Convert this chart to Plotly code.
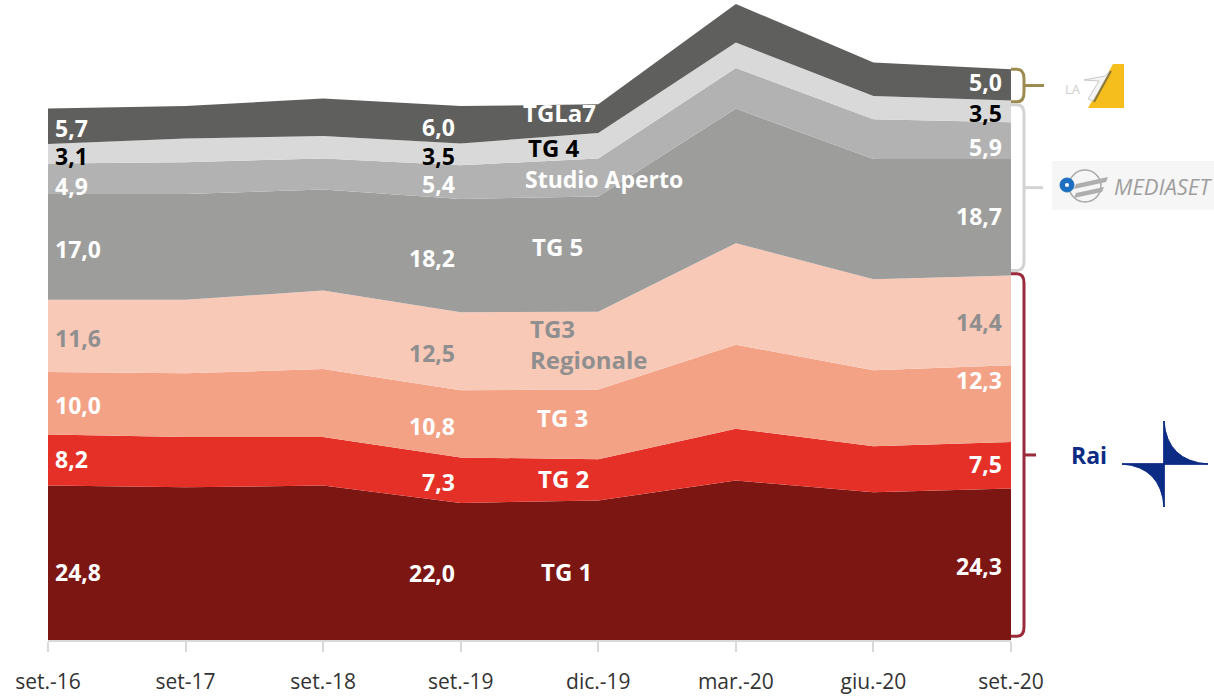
import plotly.graph_objects as go

# ---------------- data ----------------
categories = ["set.-16", "set-17", "set.-18", "set.-19", "dic.-19", "mar.-20", "giu.-20", "set.-20"]
tg1 = [24.8, 24.5, 24.8, 22.0, 22.4, 25.6, 23.7, 24.3]
tg2 = [8.2, 8.1, 7.8, 7.3, 6.6, 8.3, 7.4, 7.5]
tg3 = [10.0, 10.2, 10.9, 10.8, 11.2, 13.5, 12.2, 12.3]
tg3_reg = [11.6, 11.8, 12.6, 12.5, 12.5, 16.3, 14.6, 14.4]
tg5 = [17.0, 17.0, 16.2, 18.2, 18.5, 21.6, 19.3, 18.7]
studio_aperto = [4.9, 5.1, 5.0, 5.4, 6.1, 6.5, 6.4, 5.9]
tg4 = [3.1, 3.8, 3.6, 3.5, 4.1, 4.1, 3.7, 3.5]
tgla7 = [5.7, 5.2, 6.0, 6.0, 4.6, 6.2, 5.4, 5.0]

series_names = ["TG 1", "TG 2", "TG 3", "TG3<br>Regionale", "TG 5", "Studio Aperto", "TG 4", "TGLa7"]
series_values = [tg1, tg2, tg3, tg3_reg, tg5, studio_aperto, tg4, tgla7]
fill_colors = ["#7B1613", "#E53027", "#F3A286", "#F9C9B8", "#9D9D9C", "#B2B2B2", "#D9D9D9", "#5F5F5D"]
label_colors = ["white", "white", "white", "#8F8F8F", "white", "white", "black", "white"]

# ---------------- layout geometry (pixels) ----------------
W, H = 1214, 696
L, R, T, B = 48, 203, 0, 56
PW, PH = W - L - R, H - T - B
PX_PER_UNIT = 6.23
YMAX = PH / PX_PER_UNIT

def pxp(px):
    return (px - L) / PW

def pyp(py):
    return (T + PH - py) / PH

FONT = "Open Sans"

fig = go.Figure()
for name, vals, col in zip(series_names, series_values, fill_colors):
    fig.add_trace(go.Scatter(
        x=categories, y=vals, name=name, mode="lines",
        stackgroup="one", line=dict(width=0, color=col),
        fillcolor=col, hoverinfo="x+y+name",
    ))

def fmt(v):
    return f"{v:.1f}".replace(".", ",")

annotations = []
n = len(categories)
cum_bottom = [[0.0] * n]
for vals in series_values:
    prev = cum_bottom[-1]
    cum_bottom.append([p + v for p, v in zip(prev, vals)])

# label pixel nudges (series index, column index) -> yshift
nudge = {(0, 0): -7, (1, 0): 3, (5, 0): -5,
         (7, 7): 5, (5, 7): -4, (4, 7): 3, (2, 7): 26, (1, 7): 3}
value_cols = [(0, "left", 5), (3, "right", -4), (7, "right", -7)]
for si, vals in enumerate(series_values):
    for ci, anchor, shift in value_cols:
        mid = cum_bottom[si][ci] + vals[ci] / 2
        annotations.append(dict(
            x=categories[ci], y=mid, xref="x", yref="y", text=f"<b>{fmt(vals[ci])}</b>",
            showarrow=False, xanchor=anchor, yanchor="middle", xshift=shift,
            yshift=-2 + nudge.get((si, ci), 0),
            font=dict(family=FONT, size=23, color=label_colors[si]),
        ))

# series name labels near dic.-19
name_shift = [-32, -35, -36, -70, -41, 6, -44, -39]
name_yshift = [-1, 1, 7, 7, 8, -2, -2, 6]
name_size = [24, 24, 24, 24, 24, 23, 24, 24]
for si, vals in enumerate(series_values):
    ci = 4
    mid = cum_bottom[si][ci] + vals[ci] / 2
    anchor = "left" if si == 3 else "center"
    annotations.append(dict(
        x=categories[ci], y=mid, xref="x", yref="y", text=f"<b>{series_names[si]}</b>",
        showarrow=False, xanchor=anchor, yanchor="middle", align="left",
        xshift=name_shift[si], yshift=name_yshift[si],
        font=dict(family=FONT, size=name_size[si], color=label_colors[si]),
    ))

# ---------------- brackets (group braces) ----------------
last = n - 1
c_tg3r = cum_bottom[4][last]
c_tg4 = cum_bottom[7][last]
c_top = cum_bottom[8][last]
shapes = []

def brace(y0, y1, color, nib_px):
    x0 = pxp(1011)
    x1 = pxp(1024)
    xc = pxp(1017)
    x2 = pxp(nib_px)
    ry = 1.5
    ym = (y0 + y1) / 2
    path = (f"M {x0},{y1} L {xc},{y1} Q {x1},{y1} {x1},{y1 - ry} "
            f"L {x1},{y0 + ry} Q {x1},{y0} {xc},{y0} L {x0},{y0}")
    shapes.append(dict(type="path", path=path, xref="paper", yref="y",
                       line=dict(color=color, width=3)))
    shapes.append(dict(type="line", x0=x1, x1=x2, y0=ym, y1=ym, xref="paper", yref="y",
                       line=dict(color=color, width=3)))

brace(c_tg4 - 0.2, c_top, "#9C8B4E", 1044)
brace(c_tg3r + 0.8, c_tg4 - 0.7, "#D3D3D3", 1043)
brace(0.6, c_tg3r + 0.3, "#9B2B3A", 1036)

# ---------------- logos (decorative) ----------------
def ppath(points, close=True):
    s = "M " + " L ".join(f"{pxp(x)},{pyp(y)}" for x, y in points)
    return s + (" Z" if close else "")

# La7 logo
shapes.append(dict(type="path", path=ppath([(1113, 64), (1124, 64), (1124, 108), (1088, 108)]),
                   xref="paper", yref="paper", fillcolor="#F6BE1C", line=dict(width=0)))
shapes.append(dict(type="path", path=ppath([(1084, 80), (1105, 76), (1110, 71), (1093, 101), (1088, 99), (1099, 81)]),
                   xref="paper", yref="paper", fillcolor="#F4F4F4", line=dict(color="#C8C8C8", width=1)))
shapes.append(dict(type="line", x0=pxp(1111), y0=pyp(71), x1=pxp(1094), y1=pyp(102), xref="paper", yref="paper",
                   line=dict(color="#8C7A3A", width=2)))
annotations.append(dict(x=pxp(1073), y=pyp(89), xref="paper", yref="paper", text="LA", showarrow=False,
                        xanchor="center", yanchor="middle",
                        font=dict(family=FONT, size=13, color="#CFCFCF")))

# Mediaset logo
shapes.append(dict(type="rect", x0=pxp(1052), x1=pxp(1214), y0=pyp(210), y1=pyp(161), xref="paper", yref="paper",
                   fillcolor="#F6F6F6", line=dict(width=0), layer="below"))
shapes.append(dict(type="circle", x0=pxp(1069), x1=pxp(1101), y0=pyp(202), y1=pyp(170), xref="paper", yref="paper",
                   line=dict(color="#A8A8A8", width=1.5)))
shapes.append(dict(type="circle", x0=pxp(1060), x1=pxp(1074), y0=pyp(192), y1=pyp(178), xref="paper", yref="paper",
                   fillcolor="#1D6FBF", line=dict(color="#1D6FBF", width=1)))
shapes.append(dict(type="circle", x0=pxp(1065), x1=pxp(1069), y0=pyp(187), y1=pyp(183), xref="paper", yref="paper",
                   fillcolor="white", line=dict(width=0)))
shapes.append(dict(type="path", path=ppath([(1076, 184), (1108, 177), (1106, 182), (1074, 189)]),
                   xref="paper", yref="paper", fillcolor="#AEAEAE", line=dict(width=0)))
shapes.append(dict(type="path", path=ppath([(1076, 193), (1104, 187), (1102, 192), (1074, 198)]),
                   xref="paper", yref="paper", fillcolor="#AEAEAE", line=dict(width=0)))
annotations.append(dict(x=pxp(1163), y=pyp(186), xref="paper", yref="paper", text="<i>MEDIASET</i>",
                        showarrow=False, xanchor="center", yanchor="middle",
                        font=dict(family=FONT, size=22, color="#9E9E9E")))

# Rai logo
RAI_BLUE = "#0C2B85"
annotations.append(dict(x=pxp(1089), y=pyp(455), xref="paper", yref="paper", text="<b>Rai</b>",
                        showarrow=False, xanchor="center", yanchor="middle",
                        font=dict(family=FONT, size=23, color=RAI_BLUE)))
tr = (f"M {pxp(1164)},{pyp(421)} Q {pxp(1167)},{pyp(461)} {pxp(1208)},{pyp(464)} "
      f"L {pxp(1164)},{pyp(464)} Z")
bl = (f"M {pxp(1164)},{pyp(507)} Q {pxp(1161)},{pyp(467)} {pxp(1122)},{pyp(464)} "
      f"L {pxp(1164)},{pyp(464)} Z")
for p in (tr, bl):
    shapes.append(dict(type="path", path=p, xref="paper", yref="paper", fillcolor=RAI_BLUE,
                       line=dict(color=RAI_BLUE, width=1)))
shapes.append(dict(type="line", x0=pxp(1164), x1=pxp(1164), y0=pyp(421), y1=pyp(507), xref="paper", yref="paper",
                   line=dict(color=RAI_BLUE, width=1.5)))
shapes.append(dict(type="line", x0=pxp(1122), x1=pxp(1208), y0=pyp(464), y1=pyp(464), xref="paper", yref="paper",
                   line=dict(color=RAI_BLUE, width=1.5)))

fig.update_layout(
    width=W, height=H,
    margin=dict(l=L, r=R, t=T, b=B, autoexpand=False),
    paper_bgcolor="white", plot_bgcolor="white",
    showlegend=False,
    annotations=annotations,
    shapes=shapes,
    xaxis=dict(
        type="category", range=[0, n - 1], showgrid=False, zeroline=False,
        showline=True, linecolor="#D9D9D9", linewidth=1.5,
        ticks="outside", ticklen=10, tickcolor="#D9D9D9", tickwidth=1.5,
        ticklabelstandoff=12,
        tickfont=dict(family=FONT, size=21, color="#333333"),
    ),
    yaxis=dict(range=[0, YMAX], visible=False, showgrid=False, zeroline=False),
)

fig.write_html(
    "out.html",
    config={"displayModeBar": False},
    post_script="document.body.style.margin='0px';document.body.style.overflow='hidden';",
)
